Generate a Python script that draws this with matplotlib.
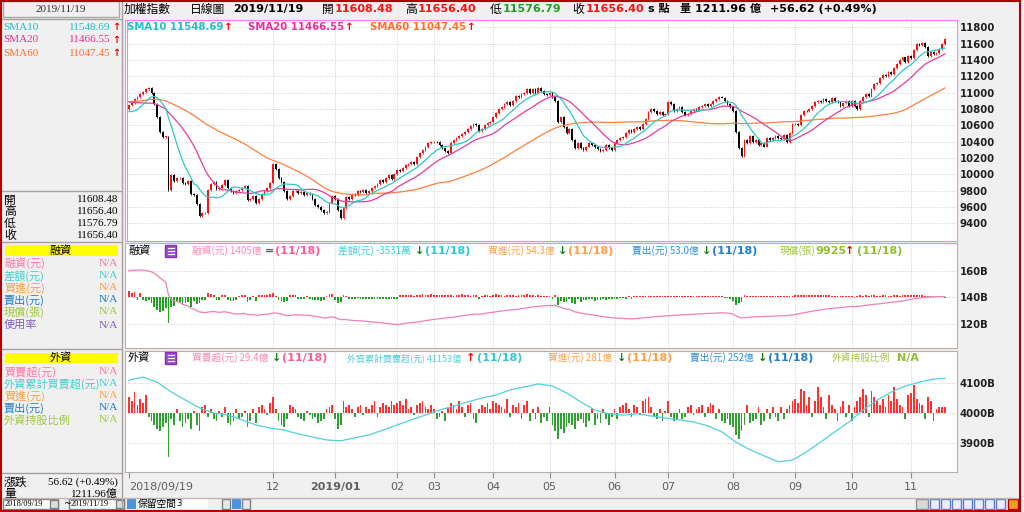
import matplotlib
matplotlib.use("Agg")
import matplotlib.pyplot as plt
import numpy as np
import pandas as pd
from matplotlib.patches import Rectangle
from matplotlib.lines import Line2D

plt.rcParams['font.family'] = ['DejaVu Sans', 'Noto Sans CJK TC']
CJK = ['Noto Sans CJK TC', 'DejaVu Sans']
SERIF = ['Liberation Serif', 'Noto Sans CJK TC']

# ---- data (one value per trading day) ----
prehist = [10820, 10790, 10710, 10740, 10840,
           10870, 10780, 10700, 10650, 10720, 10800, 10810, 10730, 10790, 10820, 10870,
           10880, 10860, 10930, 10970, 11010, 11000, 10990, 10980, 11020, 11060, 11000,
           11040, 11000, 10980, 11010, 11060, 11080, 11100, 10960, 10890, 10860, 10840,
           10780, 10720, 10780, 10850, 10890, 10920, 10980, 11010, 11040, 11030, 11060, 11070,
           11010, 10990, 10900, 10880, 10830, 10790, 10700, 10660, 10700, 10720, 10760, 10800]
first_open = 10800
closes = [
    10845, 10870, 10920, 10950, 10985, 11010, 11040,
    11060, 10990, 10860, 10700, 10520, 10460, 10460, 9810, 9990, 9920, 9950, 9960, 9890, 9880, 9920,
    9760, 9750, 9640, 9490, 9520, 9530, 9810,
    9880, 9900, 9820, 9830, 9870, 9930, 9830, 9800, 9770, 9790, 9810, 9830, 9860, 9680, 9700, 9740,
    9650, 9700, 9760, 9800, 9830, 9890,
    10120, 10060, 9950, 9900, 9790, 9700, 9730, 9790, 9800, 9770, 9780, 9750, 9770, 9760, 9700, 9620,
    9600, 9560, 9520, 9540, 9650, 9730,
    9700, 9560, 9470, 9590, 9720, 9700, 9760, 9750, 9790, 9780, 9810, 9770, 9800, 9830, 9860, 9880,
    9930, 9900, 9950, 9990, 9940, 10000,
    10050, 10040, 10080, 10110, 10120, 10150, 10120, 10210, 10260, 10300, 10330, 10380, 10390,
    10400, 10390, 10360, 10320, 10290, 10260, 10380, 10420, 10450, 10470, 10490, 10520, 10560, 10590,
    10620, 10600, 10530, 10560, 10600, 10630, 10640,
    10700, 10750, 10800, 10820, 10860, 10880, 10850, 10900, 10960, 10950, 10980, 11000, 11050, 10990,
    11040, 11000, 11060, 11020, 10980, 10970,
    11000, 10950, 10900, 10640, 10700, 10580, 10500, 10560, 10420, 10320, 10380, 10320, 10300, 10340,
    10380, 10360, 10330, 10310, 10280, 10300, 10360, 10320, 10300,
    10380, 10420, 10440, 10460, 10500, 10540, 10520, 10560, 10580, 10550, 10620, 10680, 10760, 10800,
    10780, 10740, 10760, 10720, 10740,
    10880, 10860, 10780, 10800, 10820, 10760, 10720, 10740, 10770, 10800, 10790, 10820, 10840, 10860,
    10830, 10860, 10900, 10920, 10950, 10940, 10900, 10860, 10820,
    10780, 10520, 10320, 10220, 10420, 10380, 10470, 10400, 10420, 10360, 10380, 10340, 10440, 10420,
    10440, 10470, 10450, 10430, 10480, 10400, 10500, 10610,
    10620, 10600, 10720, 10780, 10770, 10800, 10840, 10880, 10900, 10880, 10920, 10900, 10880, 10930,
    10900, 10880, 10840, 10870, 10900, 10830,
    10900, 10840, 10800, 10900, 10950, 10980, 10960, 11050, 11100, 11120, 11180, 11220, 11200, 11250,
    11230, 11300, 11350, 11400, 11430, 11380, 11450,
    11420, 11520, 11600, 11580, 11610, 11560, 11450, 11500, 11470, 11480, 11530, 11600, 11656.40]

margin_bal = [  # 融資餘額, 億
    1600, 1602, 1605, 1603, 1606, 1604, 1600,
    1598, 1592, 1580, 1565, 1545, 1530, 1515, 1420, 1385, 1372, 1368, 1362, 1350, 1342, 1335, 1318,
    1312, 1300, 1290, 1288, 1285, 1290,
    1292, 1294, 1290, 1288, 1290, 1292, 1288, 1283, 1278, 1275, 1276, 1278, 1280, 1272, 1270, 1271,
    1266, 1268, 1270, 1272, 1274, 1277,
    1282, 1283, 1280, 1275, 1268, 1262, 1264, 1267, 1270, 1268, 1267, 1265, 1266, 1265, 1262, 1258,
    1255, 1250, 1245, 1246, 1250, 1254,
    1250, 1240, 1232, 1234, 1233, 1230, 1228, 1226, 1225, 1224, 1222, 1220, 1218, 1216, 1214, 1212,
    1210, 1208, 1205, 1203, 1200, 1198,
    1196, 1198, 1202, 1205, 1208, 1210, 1212, 1215, 1218, 1222, 1225, 1228, 1232,
    1234, 1238, 1240, 1243, 1245, 1248, 1250, 1252, 1255, 1258, 1262, 1265, 1268, 1270, 1273, 1276,
    1274, 1276, 1280, 1283, 1285,
    1288, 1292, 1295, 1298, 1300, 1303, 1305, 1308, 1310, 1312, 1315, 1318, 1322, 1325, 1328, 1330,
    1333, 1335, 1337, 1338,
    1340, 1338, 1342, 1330, 1325, 1318, 1312, 1310, 1300, 1290, 1288, 1282, 1278, 1275, 1272, 1270,
    1265, 1262, 1258, 1255, 1252, 1250, 1248,
    1246, 1244, 1243, 1242, 1240, 1240, 1238, 1240, 1242, 1244, 1246, 1248, 1250, 1252, 1254, 1256,
    1258, 1259, 1260,
    1262, 1264, 1265, 1266, 1268, 1268, 1270, 1271, 1272, 1273, 1275, 1276, 1277, 1278, 1279, 1280,
    1281, 1282, 1283, 1284, 1283, 1282, 1280,
    1275, 1262, 1252, 1245, 1248, 1250, 1252, 1253, 1254, 1255, 1256, 1257, 1258, 1258, 1259, 1260,
    1261, 1262, 1262, 1264, 1266, 1268,
    1272, 1276, 1280, 1284, 1288, 1292, 1296, 1300, 1303, 1306, 1310, 1313, 1316, 1318, 1320, 1322,
    1324, 1326, 1328, 1330,
    1331, 1330, 1332, 1335, 1337, 1340, 1342, 1345, 1348, 1350, 1352, 1355, 1358, 1360, 1362, 1365,
    1368, 1370, 1373, 1376, 1380,
    1384, 1388, 1392, 1395, 1398, 1400, 1402, 1403, 1404, 1405, 1406, 1405.4, 1405]

margin_chg = [  # 融資增減 bars, 億
    12, 8, 10, -6, 9, -5, -8,
    -6, -12, -20, -25, -30, -28, -22, -52, -20, -18, -8, -10, -15, -12, -10, -20, -8, -14, -12, -5, -6, 8,
    6, 5, -6, -5, 4, 5, -6, -7, -8, -5, 3, 4, 5, -10, -6, 3, -7, 4, 5, 4, 5, 6,
    8, 3, -5, -8, -9, -7, 4, 5, 5, -4, -3, -4, 3, -3, -5, -6, -5, -7, -6, 3, 6, 6,
    -6, -12, -10, 4, 3, -4, -3, -3, -2, -3, -4, -3, -4, -3, -4, -3, -3, -4, -4, -3, -4, -3,
    -3, 4, 5, 4, 5, 4, 3, 5, 4, 6, 5, 4, 6,
    4, 5, 4, 5, 4, 5, 4, 3, 5, 4, 6, 5, 4, 3, 5, 4, -4, 3, 5, 4, 3,
    5, 6, 4, 5, 3, 5, 4, 5, 3, 4, 5, 4, 6, 4, 5, 3, 4, 3, 3, 2,
    3, -4, 5, -15, -8, -10, -9, -4, -12, -14, -4, -9, -6, -5, -4, -3, -7, -5, -6, -4, -5, -3, -3,
    -3, -3, -2, -2, -3, 2, -3, 3, 3, 3, 3, 3, 3, 3, 3, 3, 3, 2, 2,
    3, 3, 2, 2, 3, 2, 3, 2, 2, 2, 3, 2, 2, 2, 2, 2, 2, 2, 2, 2, -2, -2, -3,
    -7, -15, -12, -9, 4, 3, 3, 2, 2, 2, 2, 2, 2, 2, 2, 2, 2, 2, 2, 3, 3, 3,
    5, 5, 5, 5, 5, 5, 5, 5, 4, 4, 5, 4, 4, 3, 3, 3, 3, 3, 3, 3,
    2, -2, 3, 4, 3, 4, 3, 4, 4, 3, 3, 4, 4, 3, 3, 4, 4, 3, 4, 4, 5,
    5, 5, 5, 4, 4, 3, 3, 2, 2, 2, 2, 2, -0.35]

foreign_net = [  # 外資買賣超, 億
    80, 60, 105, 40, 70, 50, 90,
    -20, -40, -60, -80, -90, -70, -50, -220, -30, -60, 20, -40, -70, -50, -30, -80, 10, -60, -90, 30, 40, -20,
    20, -30, -40, 10, -20, 30, -50, -60, -40, 20, -30, -20, 10, -70, -40, 20, -50, 30, 40, 20, -10, 50,
    80, 20, -40, -60, -70, -30, 40, 30, 20, -20, -30, -40, 10, -10, -30, -20, -50, -40, -30, 20, 30, 40,
    -30, -80, -60, 60, 30, 40, 20, -20, 30, 40, -10, 30, 20, 40, 60, -20, 30, 50, 40, 30, 60, 40,
    50, 60, 40, 70, 20, 30, -10, 40, 50, 60, 30, 20, 40,
    20, -30, -20, 10, -40, 30, 50, 40, 20, 60, 30, -20, 40, 50, -30, -50, 20, 40, 30, 50, 20,
    60, 50, 40, 30, 20, 70, -20, 40, 30, 50, -30, 40, 60, -40, 20, -30, 30, -50, -20, -40,
    30, -60, -90, -130, -80, -100, -70, -50, -60, -80, -40, -30, -50, -70, -40, 20, -60, -30, -50, 20, -30, -60, -20,
    20, -30, 30, 40, 50, 20, -20, 40, 30, -10, 60, 70, 80, 30, -20, -30, 20, -40, 10,
    60, -20, -40, -30, 20, -30, -20, 30, 40, -10, 20, 30, 40, -20, 30, 50, 40, -30, 20, -40, -50, -30, -60,
    -70, -110, -130, -90, -60, 40, -50, -40, -30, 30, -60, -40, 20, -30, 30, -20, -40, 30, -30, 20, 40, 60,
    70, 50, 120, 110, 40, 80, -20, 60, 130, 80, 30, -30, 90, 40, 20, -40, 30, 60, -20, 40,
    -40, 30, 60, 80, 120, 90, -20, 110, 80, 60, 40, 70, 30, 90, 60, 130, 70, 40, 30, -30, 90,
    100, 140, 70, 50, 40, -30, 80, 60, -40, 20, 30, 30, 29.4]

foreign_cum_day = list(range(0, 290, 5)) + [289]
foreign_cum = [4110, 4120, 4103, 4070, 4043, 4017, 4000, 3993, 3977, 3960, 3950, 3943, 3930, 3920,
               3910, 3907, 3917, 3927, 3943, 3960, 3977, 3993, 4010, 4023, 4037, 4050, 4060, 4077,
               4087, 4097, 4090, 4067, 4037, 4010, 3997, 3993, 3997, 3990, 3983, 3977, 3970, 3957,
               3937, 3903, 3877, 3857, 3837, 3843, 3870, 3903, 3937, 3970, 4010, 4043, 4070, 4090,
               4103, 4113, 4115.3]

month_pos = [51, 73, 95, 108, 129, 149, 172, 191, 214, 236, 256, 277]
month_lbl = ['12', '2019/01', '02', '03', '04', '05', '06', '07', '08', '09', '10', '11']

# ---- figure in pixel coordinates ----
W, H = 1024, 512
fig = plt.figure(figsize=(10.24, 5.12), dpi=100)
fig.patch.set_facecolor('#f0f0f0')


def fx(x):
    return x / W


def fy(y):
    return 1 - y / H


def txt(x, y, s, color='black', size=8, weight='normal', ha='left', family=None):
    kw = {'family': family} if family else {}
    fig.text(fx(x), fy(y), s, color=color, fontsize=size, fontweight=weight,
             ha=ha, va='center', **kw)


def box(x0, y0, x1, y1, fc='none', ec='#a0a0a0', lw=1, z=1):
    fig.add_artist(Rectangle((fx(x0), fy(y1)), fx(x1) - fx(x0), fy(y0) - fy(y1),
                             transform=fig.transFigure, facecolor=fc, edgecolor=ec, lw=lw, zorder=z))


def hline(y, x0, x1, color='#a8a0a0', lw=1):
    fig.add_artist(Line2D([fx(x0), fx(x1)], [fy(y), fy(y)], color=color, lw=lw))


def panel(y0, y1, edge):
    ax = fig.add_axes([fx(125), fy(y1), fx(957) - fx(125), fy(y0) - fy(y1)])
    ax.set_facecolor('white')
    ax.set_xlim(-1.4, 293.3)
    for sp in ax.spines.values():
        sp.set_color(edge)
    ax.yaxis.tick_right()
    ax.tick_params(axis='y', length=0, pad=2, labelsize=7.3, labelcolor='#202020')
    ax.tick_params(axis='x', length=0, labelbottom=False)
    ax.set_xticks([])
    for m in month_pos:
        ax.axvline(m, color='#cfcfcf', lw=0.7, ls=(0, (1, 1.5)), zorder=0)
    return ax


closes = np.array(closes, dtype=float)
days = np.arange(len(closes))
opens = np.r_[first_open, closes[:-1]]

# ---- main price panel ----
ax1 = panel(20, 241, '#ff80ff')
ax1.set_ylim(9183, 11889)
ax1.set_yticks(range(9400, 11801, 200))
ax1.grid(axis='y', color='#cfcfcf', lw=0.7, ls=(0, (1, 1.5)))
ax1.axvline(-0.7, color='#ff80ff', lw=0.8)
for lb in ax1.get_yticklabels():
    lb.set_fontweight('bold')

up = closes >= opens
lo = np.minimum(opens, closes)
hi = np.maximum(opens, closes)
cols = np.where(up, '#ff1010', '#000000')
ax1.vlines(days, lo - 12, hi + 12, colors=cols, lw=0.6, zorder=2)
ax1.bar(days, np.maximum(hi - lo, 8), bottom=lo, width=0.62, color=cols, lw=0, zorder=3)

full = pd.Series(prehist + list(closes))
n = len(closes)
sma10 = full.rolling(10).mean().values[-n:]
sma20 = full.rolling(20).mean().values[-n:]
sma60 = full.rolling(60).mean().values[-n:]
ax1.plot(days, sma60, color='#ff8040', lw=0.9, zorder=4)
ax1.plot(days, sma20, color='#e83c9c', lw=0.9, zorder=4)
ax1.plot(days, sma10, color='#30c8c8', lw=0.9, zorder=4)

txt(127, 27, 'SMA10 11548.69', '#20c0c8', 7.3, 'bold')
txt(224, 27, '↑', 'red', 7.5, 'bold')
txt(248, 27, 'SMA20 11466.55', '#e8309a', 7.3, 'bold')
txt(345, 27, '↑', 'red', 7.5, 'bold')
txt(370, 27, 'SMA60 11047.45', '#ff7030', 7.3, 'bold')
txt(467, 27, '↑', 'red', 7.5, 'bold')

# ---- margin panel ----
ax2 = panel(243, 348, '#b8b0a8')
ax2.set_ylim(102, 180.8)
ax2.set_yticks([120, 140, 160])
ax2.set_yticklabels(['120B', '140B', '160B'])
ax2.grid(axis='y', color='#cfcfcf', lw=0.7, ls=(0, (1, 1.5)))
for lb in ax2.get_yticklabels():
    lb.set_fontweight('bold')
mchg = np.array(margin_chg)
ax2.bar(days, mchg * 0.375, bottom=140, width=0.62,
        color=np.where(mchg >= 0, '#ff3030', '#20a020'), lw=0, zorder=2)
ax2.plot(days, np.array(margin_bal) / 10, color='#f080b8', lw=0.9, zorder=3)

# ---- foreign panel ----
ax3 = panel(351, 472, '#b8b0a8')
ax3.set_ylim(3803, 4207)
ax3.set_yticks([3900, 4000, 4100])
ax3.set_yticklabels(['3900B', '4000B', '4100B'])
ax3.grid(axis='y', color='#cfcfcf', lw=0.7, ls=(0, (1, 1.5)))
for lb in ax3.get_yticklabels():
    lb.set_fontweight('bold')
fnet = np.array(foreign_net)
ax3.bar(days, fnet * 0.667, bottom=4000, width=0.62,
        color=np.where(fnet >= 0, '#ff3030', '#30a030'), lw=0, zorder=2)
ax3.plot(foreign_cum_day, foreign_cum, color='#50d0e0', lw=0.9, zorder=3)
ax3.set_xticks([0] + month_pos)
ax3.set_xticklabels(['2018/09/19'] + month_lbl)
ax3.tick_params(axis='x', length=4, width=0.8, color='#909090', pad=3,
                labelsize=8, labelcolor='#606060', labelbottom=True)
tl = ax3.get_xticklabels()
tl[0].set_ha('left')
tl[2].set_fontweight('bold')

# ---- title bar ----
txt(124, 9, '加權指數', 'black', 8.5, family=CJK)
txt(190, 9, '日線圖', 'black', 8.5, family=CJK)
txt(233, 9, '2019/11/19', 'black', 8, 'bold')
txt(322, 9, '開', 'black', 8.5, family=CJK)
txt(335, 9, '11608.48', '#ff1010', 8, 'bold')
txt(405, 9, '高', 'black', 8.5, family=CJK)
txt(418, 9, '11656.40', '#ff1010', 8, 'bold')
txt(490, 9, '低', 'black', 8.5, family=CJK)
txt(503, 9, '11576.79', '#20a020', 8, 'bold')
txt(572, 9, '收', 'black', 8.5, family=CJK)
txt(586, 9, '11656.40', '#ff1010', 8, 'bold')
txt(648, 9, 's 點', 'black', 8, 'bold')
txt(680, 9, '量 1211.96 億', 'black', 8, 'bold')
txt(770, 9, '+56.62 (+0.49%)', 'black', 8, 'bold')

# ---- panel header rows ----
def icon(x, y):
    box(x, y - 6, x + 11, y + 6, fc='#a050d8', ec='#8030b0', z=5)
    for dy in (-3, 0, 3):
        fig.add_artist(Line2D([fx(x + 3), fx(x + 9)], [fy(y + dy), fy(y + dy)],
                              color='white', lw=0.8, zorder=6))


txt(128, 251, '融資', 'black', 8, family=CJK)
icon(165, 251)
txt(192, 251, '融資(元) 1405億', '#ff88b0', 7, family=CJK)
txt(265, 251, '=', '#606060', 8, 'bold')
txt(275, 251, '(11/18)', '#ff5c96', 8, 'bold')
txt(338, 251, '差額(元) -3531萬', '#40d0d0', 7, family=CJK)
txt(415, 251, '↓', '#108010', 8, 'bold')
txt(425, 251, '(11/18)', '#30c8d0', 8, 'bold')
txt(488, 251, '買進(元) 54.3億', '#ffa040', 7, family=CJK)
txt(558, 251, '↓', '#108010', 8, 'bold')
txt(568, 251, '(11/18)', '#ffa040', 8, 'bold')
txt(632, 251, '賣出(元) 53.0億', '#3090d0', 7, family=CJK)
txt(702, 251, '↓', '#108010', 8, 'bold')
txt(712, 251, '(11/18)', '#2080c8', 8, 'bold')
txt(780, 251, '現償(張)', '#a0c840', 7, family=CJK)
txt(815, 251, '9925', '#90c030', 8, 'bold')
txt(845, 251, '↑', 'red', 8, 'bold')
txt(857, 251, '(11/18)', '#90c030', 8, 'bold')

txt(128, 358, '外資', 'black', 8, family=CJK)
icon(165, 358)
txt(192, 358, '買賣超(元) 29.4億', '#ff88b0', 7, family=CJK)
txt(272, 358, '↓', '#108010', 8, 'bold')
txt(282, 358, '(11/18)', '#ff5c96', 8, 'bold')
txt(347, 358, '外資累計買賣超(元) 41153億', '#50d0d8', 6.5, family=CJK)
txt(466, 358, '↑', 'red', 8, 'bold')
txt(477, 358, '(11/18)', '#30c8d0', 8, 'bold')
txt(548, 358, '買進(元) 281億', '#ffa040', 7, family=CJK)
txt(617, 358, '↓', '#108010', 8, 'bold')
txt(627, 358, '(11/18)', '#ffa040', 8, 'bold')
txt(690, 358, '賣出(元) 252億', '#3090d0', 7, family=CJK)
txt(758, 358, '↓', '#108010', 8, 'bold')
txt(768, 358, '(11/18)', '#2080c8', 8, 'bold')
txt(832, 358, '外資持股比例', '#a0c840', 7, family=CJK)
txt(897, 358, 'N/A', '#90c030', 8, 'bold')

# ---- left info column ----
box(3, 1, 119, 17, fc='#f0f0f0', ec='#a8a8a8')
txt(61, 9, '2019/11/19', '#303030', 8, ha='center', family=SERIF)
hline(19, 1, 122)
fig.add_artist(Line2D([fx(122), fx(122)], [fy(0), fy(511)], color='#a8a0a0', lw=1))

for y, name, val, c in [(27, 'SMA10', '11548.69', '#20c0c8'),
                        (40, 'SMA20', '11466.55', '#e8309a'),
                        (53, 'SMA60', '11047.45', '#ff7030')]:
    txt(3, y, name, c, 8, family=SERIF)
    txt(110, y, val, c, 8, ha='right', family=SERIF)
    txt(112, y, '↑', 'red', 7, 'bold')

hline(191, 2, 121)
for y, name, val in [(200, '開', '11608.48'), (212, '高', '11656.40'),
                     (224, '低', '11576.79'), (236, '收', '11656.40')]:
    txt(4, y, name, 'black', 8.5, family=CJK)
    txt(118, y, val, 'black', 8, ha='right', family=SERIF)
hline(242, 2, 121)

box(5, 245, 118, 256, fc='#ffff00', ec='none')
txt(61, 251, '融資', 'black', 8, ha='center', family=CJK)
for y, name, c in [(263, '融資(元)', '#ff78a8'), (276, '差額(元)', '#40d0d0'),
                   (288, '買進(元)', '#ffa040'), (300, '賣出(元)', '#2080c8'),
                   (312, '現償(張)', '#a0c840'), (325, '使用率', '#8060c0')]:
    txt(4, y, name, c, 8, family=CJK)
    txt(118, y, 'N/A', c, 8, ha='right', family=SERIF)

hline(349, 2, 121)
box(5, 353, 118, 363, fc='#ffff00', ec='none')
txt(61, 358, '外資', 'black', 8, ha='center', family=CJK)
for y, name, c in [(372, '買賣超(元)', '#ff78a8'), (384, '外資累計買賣超(元)', '#40d0d0'),
                   (396, '買進(元)', '#ffa040'), (408, '賣出(元)', '#2080c8'),
                   (420, '外資持股比例', '#a0c840')]:
    txt(4, y, name, c, 8, family=CJK)
    txt(118, y, 'N/A', c, 8, ha='right', family=SERIF)

hline(473, 2, 121)
txt(4, 482, '漲跌', 'black', 8.5, family=CJK)
txt(118, 482, '56.62 (+0.49%)', 'black', 8, ha='right', family=SERIF)
txt(4, 494, '量', 'black', 8.5, family=CJK)
txt(118, 494, '1211.96億', 'black', 8, ha='right', family=SERIF)

# ---- bottom toolbar ----
hline(498, 1, 1019, '#c0b8b0')
box(3, 499, 58, 509, fc='white', ec='#808080')
txt(5, 504, '2018/09/19', 'black', 6, family=SERIF)
box(50, 500, 58, 508, fc='#e0e0e0', ec='#808080')
txt(64, 504, '~', 'black', 7)
box(69, 499, 124, 509, fc='white', ec='#808080')
txt(71, 504, '2019/11/19', 'black', 6, family=SERIF)
box(116, 500, 124, 508, fc='#e0e0e0', ec='#808080')
box(127, 499, 136, 509, fc='#5090e0', ec='none')
txt(138, 504, '保留空間', 'black', 7, family=CJK)
box(172, 499, 208, 509, fc='white', ec='none')
txt(176, 503, '3', 'black', 6)
box(222, 499, 230, 509, fc='#e8e8e8', ec='#808080')
box(232, 499, 241, 509, fc='#5090e0', ec='none')
box(242, 499, 250, 509, fc='#e8e8e8', ec='#808080')
box(916, 499, 928, 509, fc='#d8d8d8', ec='#909090')
for i in range(7):
    box(930 + i * 11, 499, 939 + i * 11, 509, fc='#e8f0ff', ec='#6080c0')
box(1008, 499, 1018, 509, fc='#f0a020', ec='#c00000')

# outer frame
box(0.5, 0.5, 1020, 511, fc='none', ec='#b00000', lw=1.5, z=10)

fig.savefig('out.png', dpi=100, facecolor=fig.get_facecolor())
